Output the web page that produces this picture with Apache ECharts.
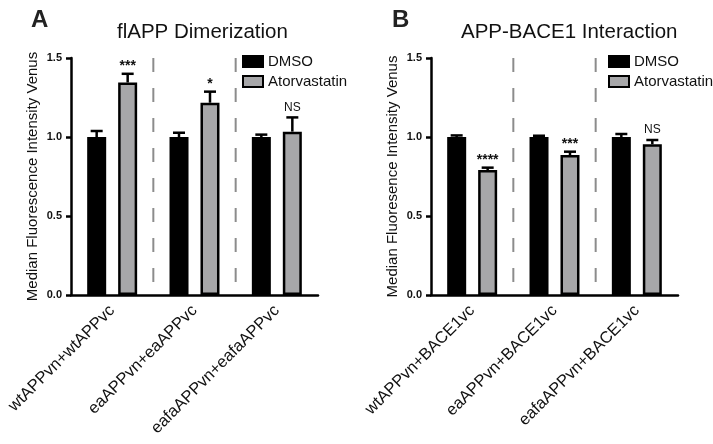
<!DOCTYPE html>
<html>
<head>
<meta charset="utf-8">
<script src="https://cdn.jsdelivr.net/npm/echarts@6/dist/echarts.min.js"></script>
<style>html,body{margin:0;padding:0;background:#fff;}#c{width:713px;height:444px;}</style>
</head>
<body>
<div id="c"></div>
<script>
const categoriesA = ['wtAPPvn+wtAPPvc', 'eaAPPvn+eaAPPvc', 'eafaAPPvn+eafaAPPvc'];
const categoriesB = ['wtAPPvn+BACE1vc', 'eaAPPvn+BACE1vc', 'eafaAPPvn+BACE1vc'];
const dmsoA = [1.0, 1.0, 1.0];
const dmsoErrA = [0.038, 0.027, 0.015];
const atorA = [1.345, 1.217, 1.034];
const atorErrA = [0.055, 0.07, 0.09];
const sigA = ['***', '*', 'NS'];
const dmsoB = [1.0, 1.0, 1.0];
const dmsoErrB = [0.01, 0.008, 0.019];
const atorB = [0.791, 0.886, 0.954];
const atorErrB = [0.015, 0.021, 0.027];
const sigB = ['****', '***', 'NS'];
const yTicks = [0, 0.5, 1.0, 1.5];
const seriesNames = ['DMSO', 'Atorvastatin'];

const FONT = "'Liberation Sans', Arial, Helvetica, sans-serif";
const GRAY = '#a7a7a9';
const BAR_W = 19;
const OFFSET = 15.5;

function errData(vals, errs, sig) {
  return vals.map((v, i) => [i, v, errs[i], sig ? sig[i] : '']);
}

function errRender(offset) {
  return function (params, api) {
    const i = api.value(0), v = api.value(1), e = api.value(2);
    const base = api.coord([i, v]);
    const top = api.coord([i, v + e]);
    const x = base[0] + offset;
    const children = [
      { type: 'line', shape: { x1: x, y1: base[1], x2: x, y2: top[1] }, style: { stroke: '#000', lineWidth: 2.5 } },
      { type: 'line', shape: { x1: x - 6, y1: top[1], x2: x + 6, y2: top[1] }, style: { stroke: '#000', lineWidth: 2.5 } }
    ];
    const s = api.value(3);
    if (s) {
      const isNS = s === 'NS';
      children.push({
        type: 'text',
        style: {
          text: s, x: x, y: top[1] - (isNS ? 4 : 1),
          textAlign: 'center', textVerticalAlign: 'bottom',
          font: (isNS ? '12px ' : 'bold 14px ') + FONT, fill: '#111'
        }
      });
    }
    return { type: 'group', children: children };
  };
}

function sepRender(params, api) {
  const i = api.value(0);
  const p = api.coord([i, 0]);
  const bw = api.size([1, 0])[0];
  const t = api.coord([i, 1.5]);
  const x = p[0] - bw / 2;
  return {
    type: 'line',
    shape: { x1: x, y1: t[1], x2: x, y2: p[1] },
    style: { stroke: '#8c8c8c', lineWidth: 2, lineDash: [14, 16] }
  };
}

function xAxisFor(cats, gi) {
  return {
    type: 'category', gridIndex: gi, data: cats,
    axisLine: { lineStyle: { color: '#000', width: 2.5 } },
    axisTick: { alignWithLabel: true, length: 6, lineStyle: { color: '#000', width: 2.5 } },
    axisLabel: { rotate: 45, margin: 13, color: '#111', fontSize: 16.5, fontFamily: FONT, interval: 0 },
    splitLine: { show: false }
  };
}

function yAxisFor(gi, name) {
  return {
    type: 'value', gridIndex: gi, min: yTicks[0], max: yTicks[yTicks.length - 1], interval: 0.5,
    name: name, nameLocation: 'middle', nameGap: 31, nameRotate: 90,
    nameTextStyle: { color: '#111', fontSize: 15, fontFamily: FONT },
    axisLine: { show: true, lineStyle: { color: '#000', width: 2.5 } },
    axisTick: { show: true, length: 5, lineStyle: { color: '#000', width: 2.5 } },
    axisLabel: { color: '#111', fontSize: 11, fontWeight: 'bold', fontFamily: FONT, margin: 9,
      formatter: v => v.toFixed(1) },
    splitLine: { show: false }
  };
}

function barSeries(name, vals, color, xi) {
  return {
    name: name, type: 'bar', xAxisIndex: xi, yAxisIndex: xi, data: vals,
    barWidth: BAR_W, barGap: '63%',
    itemStyle: { color: color, borderColor: '#000', borderWidth: 2.5 },
    z: 2
  };
}

function errSeries(vals, errs, sig, off, xi) {
  return {
    type: 'custom', xAxisIndex: xi, yAxisIndex: xi,
    data: errData(vals, errs, sig), renderItem: errRender(off), z: 3, silent: true
  };
}

function sepSeries(xi) {
  return {
    type: 'custom', xAxisIndex: xi, yAxisIndex: xi,
    data: [[1], [2]], renderItem: sepRender, z: 1, silent: true
  };
}

const legendBase = {
  orient: 'vertical', icon: 'rect', itemWidth: 20, itemHeight: 11, itemGap: 5,
  textStyle: { color: '#111', fontSize: 15, fontFamily: FONT },
  data: seriesNames
};

const chart = echarts.init(document.getElementById('c'), null, { renderer: 'canvas' });
chart.setOption({
  backgroundColor: '#fff',
  animation: false,
  title: [
    { text: 'A', left: 26, top: 3, textStyle: { fontSize: 24, fontWeight: 'bold', color: '#222', fontFamily: FONT } },
    { text: 'flAPP Dimerization', left: 112, top: 17, textStyle: { fontSize: 20.5, fontWeight: 'normal', color: '#111', fontFamily: FONT } },
    { text: 'B', left: 387, top: 3, textStyle: { fontSize: 24, fontWeight: 'bold', color: '#222', fontFamily: FONT } },
    { text: 'APP-BACE1 Interaction', left: 456, top: 17, textStyle: { fontSize: 20.5, fontWeight: 'normal', color: '#111', fontFamily: FONT } }
  ],
  legend: [
    Object.assign({}, legendBase, { left: 237, top: 49 }),
    Object.assign({}, legendBase, { left: 603, top: 49 })
  ],
  grid: [
    { left: 71, top: 58, width: 247, height: 237 },
    { left: 431, top: 58, width: 247, height: 237 }
  ],
  xAxis: [xAxisFor(categoriesA, 0), xAxisFor(categoriesB, 1)],
  yAxis: [yAxisFor(0, 'Median Fluorescence Intensity Venus'), yAxisFor(1, 'Median Fluoresence Intensity Venus')],
  series: [
    sepSeries(0),
    barSeries(seriesNames[0], dmsoA, '#000', 0),
    barSeries(seriesNames[1], atorA, GRAY, 0),
    errSeries(dmsoA, dmsoErrA, null, -OFFSET, 0),
    errSeries(atorA, atorErrA, sigA, OFFSET, 0),
    sepSeries(1),
    barSeries(seriesNames[0], dmsoB, '#000', 1),
    barSeries(seriesNames[1], atorB, GRAY, 1),
    errSeries(dmsoB, dmsoErrB, null, -OFFSET, 1),
    errSeries(atorB, atorErrB, sigB, OFFSET, 1)
  ]
});
</script>
</body>
</html>
